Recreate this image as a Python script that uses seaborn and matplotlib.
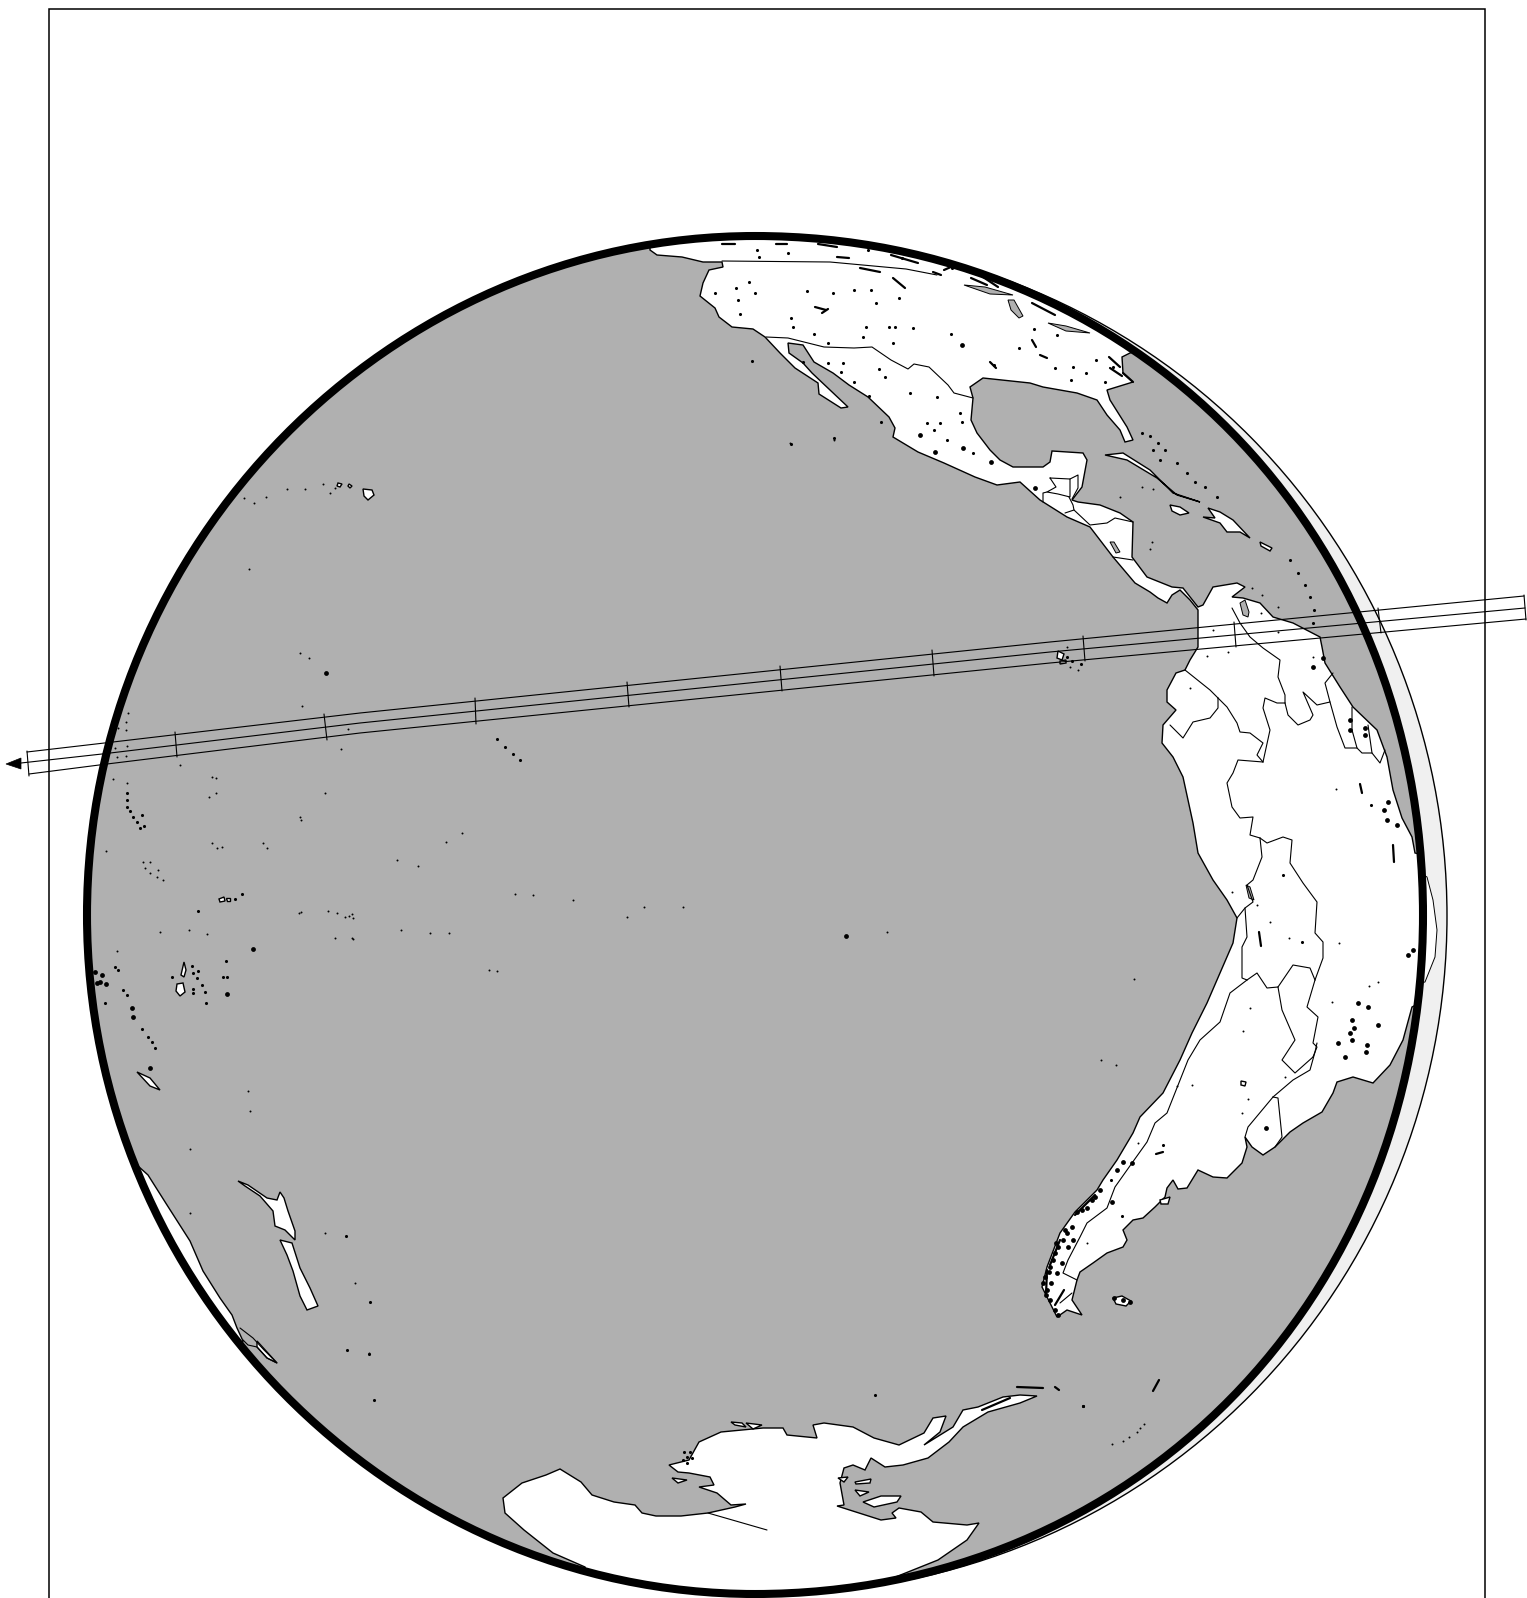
import pandas as pd
import matplotlib
matplotlib.use("Agg")
import matplotlib.pyplot as plt
from matplotlib.patches import Ellipse, PathPatch, Rectangle
from matplotlib.path import Path
import seaborn as sns

# Map outlines, in image pixels
americas = [(650,250),(657,255),(682,257),(703,262),(722,262),(723,267),(709,270),(703,283),(700,296),(715,308),(719,317),
    (732,327),(753,329),(765,337),(780,353),(795,368),(818,383),(819,394),(841,408),(848,407),(830,390),(812,373),(803,363),
    (789,353),(788,343),(803,345),(814,362),(833,373),(849,385),(868,397),(889,417),(895,428),(893,437),(918,452),(944,463),
    (975,477),(997,485),(1020,482),(1040,500),(1067,517),(1090,527),(1113,557),(1135,583),(1150,592),(1158,598),(1167,603),
    (1172,595),(1180,590),(1190,600),(1198,610),(1198,627),(1198,647),(1190,660),(1185,670),(1176,673),
    (1167,690),(1167,702),(1176,710),(1163,725),(1162,743),(1173,757),(1183,777),(1193,823),(1198,853),(1213,880),(1227,900),
    (1237,918),(1233,943),(1220,973),(1207,1003),(1192,1033),(1180,1060),(1163,1093),(1140,1117),(1133,1133),(1117,1160),
    (1103,1180),(1097,1190),(1075,1212),(1060,1233),(1047,1267),(1042,1287),(1057,1317),(1067,1310),(1082,1315),(1072,1300),
    (1077,1280),(1080,1272),(1093,1263),(1107,1253),(1123,1247),(1127,1240),(1123,1230),(1133,1220),(1143,1218),(1155,1207),
    (1165,1197),(1167,1188),(1173,1180),(1178,1189),(1187,1188),(1198,1170),(1213,1177),(1227,1178),(1242,1163),(1247,1147),
    (1245,1137),(1252,1147),(1263,1155),(1275,1147),(1290,1132),(1303,1123),(1322,1112),(1333,1093),(1337,1082),(1353,1077),
    (1373,1083),(1390,1065),(1403,1040),(1412,1007),(1445,990),(1445,860),(1415,853),(1412,837),(1402,818),(1393,790),
    (1387,757),(1377,730),(1353,707),(1340,687),(1325,663),(1322,647),(1320,637),(1293,623),(1273,617),(1260,603),(1243,598),
    (1232,597),(1245,587),(1237,583),(1213,587),(1203,605),(1198,607),(1183,588),(1172,587),(1147,577),(1132,557),(1133,522),
    (1120,513),(1100,505),(1078,502),(1072,500),(1082,487),(1087,460),(1083,453),(1052,451),(1050,462),(1043,467),(1013,467),
    (1000,460),(990,450),(977,433),(971,420),(973,398),(970,387),(983,378),(1030,383),(1043,387),(1077,393),(1097,400),(1107,415),
    (1120,430),(1125,442),(1133,440),(1127,427),(1110,400),(1107,390),(1133,382),(1123,373),(1122,357),(1130,353),(1180,340),
    (1100,200),(650,200)]
brazil_bump = [(1415,870),(1427,877),(1433,900),(1437,930),(1435,957),(1425,982),(1410,985)]
australia = [(138,1166),(148,1175),(167,1205),(190,1241),(203,1271),(220,1298),(232,1315),(237,1328),(243,1341),
    (230,1370),(100,1250),(110,1170)]
tasmania = [(257,1341),(277,1363),(267,1358),(257,1347)]
tasmania_shelf = [(240,1328),(253,1338),(264,1350),(277,1363),(267,1358),(257,1347),(248,1345),(243,1340)]
nz_north = [(238,1181),(248,1185),(267,1198),(277,1200),(280,1192),(284,1198),(288,1211),(295,1231),(295,1240),(285,1230),
    (275,1226),(273,1211),(260,1196),(245,1186)]
nz_south = [(280,1240),(292,1243),(300,1268),(310,1288),(318,1306),(307,1310),(300,1296),(293,1271),(287,1255)]
antarctica = [(505,1513),(503,1498),(522,1483),(546,1475),(560,1469),(581,1482),(592,1495),(614,1502),(635,1505),(642,1513),
    (656,1516),(681,1516),(708,1513),(735,1507),(746,1504),(731,1505),(717,1493),(699,1487),(714,1485),(710,1477),(689,1473),
    (678,1472),(669,1465),(689,1460),(699,1442),(721,1432),(763,1428),(783,1428),(787,1435),(817,1438),(813,1425),(824,1423),
    (853,1427),(874,1438),(899,1445),(924,1433),(933,1418),(946,1416),(940,1432),(924,1445),(953,1427),(963,1410),(978,1407),
    (1003,1397),(1020,1395),(1037,1396),(1020,1403),(988,1412),(963,1427),(949,1442),(928,1458),(903,1465),(885,1467),
    (871,1458),(865,1470),(853,1465),(844,1468),(840,1483),(844,1505),(837,1506),(881,1520),(896,1518),(892,1513),(899,1508),
    (921,1512),(933,1522),(967,1525),(979,1523),(967,1540),(938,1560),(888,1580),(880,1620),(600,1620),(585,1567),(553,1553),
    (524,1530)]
islands = [
    [(1105,455),(1123,453),(1150,470),(1173,493),(1200,502),(1177,495),(1157,478),(1127,460)],
    [(1170,505),(1180,507),(1189,513),(1180,515),(1172,511)],
    [(1208,508),(1220,512),(1233,520),(1250,538),(1240,532),(1227,532),(1220,523),(1203,517),(1215,518)],
    [(1260,542),(1272,548),(1270,551),(1261,546)],
    [(863,1502),(881,1496),(901,1496),(897,1502),(874,1507)],
    [(855,1482),(871,1479),(870,1483),(856,1484)],
    [(855,1490),(869,1492),(860,1496)],
    [(838,1478),(848,1477),(844,1482)],
    [(672,1478),(687,1480),(678,1483)],
    [(731,1422),(742,1423),(746,1427),(735,1425)],
    [(746,1423),(762,1425),(753,1429)],
    [(363,489),(372,490),(374,495),(368,500),(364,496)],
    [(338,483),(342,484),(340,487),(337,486)],
    [(349,484),(352,486),(350,488),(348,486)],
    [(137,1072),(150,1078),(160,1090),(150,1086)],
    [(177,984),(183,983),(185,992),(180,996),(176,991)],
    [(181,975),(184,962),(186,970),(184,977)],
    [(219,899),(224,897),(225,901),(220,902)],
    [(226,898),(230,898),(230,901),(227,901)],
    [(1241,1081),(1246,1082),(1245,1086),(1241,1085)],
    [(1160,1200),(1170,1197),(1168,1204),(1161,1204)],
    [(1113,1298),(1122,1296),(1131,1301),(1126,1306),(1116,1304)],
    [(1058,651),(1064,654),(1062,660),(1057,658)],
    [(1060,661),(1066,660),(1066,663),(1060,664)],
]
gray_lakes = [
    [(1008,300),(1014,300),(1023,316),(1019,318),(1011,310)],
    [(964,285),(985,287),(1013,295),(990,294)],
    [(1048,323),(1066,326),(1090,333),(1066,331)],
    [(1240,603),(1245,600),(1249,612),(1248,617),(1243,615)],
    [(1110,542),(1114,542),(1120,552),(1116,553)],
    [(1246,885),(1250,887),(1254,900),(1249,898)],
]

# Country borders
us_canada = [(722,261),(830,262),(906,269),(937,275)]
us_mexico = [(766,337),(788,338),(824,347),(854,348),(872,347),(891,360),(908,369),(914,364),(929,367),(948,385),(954,393),(973,398)]
guatemala = [(1050,478),(1070,479),(1070,497),(1058,494),(1047,492),(1056,487),(1050,478)]
belize = [(1070,479),(1078,475),(1078,488),(1072,499)]
honduras = [(1047,492),(1043,493),(1043,502)]
salvador = [(1069,497),(1073,505),(1074,510),(1065,513)]
nicaragua = [(1074,510),(1090,525),(1107,523),(1115,518),(1133,522)]
costa_rica = [(1113,557),(1133,560)]
col_ecu = [(1185,670),(1210,690),(1218,698)]
ecu_peru = [(1218,698),(1218,708),(1210,718),(1193,722),(1183,738),(1170,725)]
col_peru = [(1218,698),(1227,707),(1237,723),(1240,732),(1250,733),(1263,743),(1257,755),(1263,762)]
col_brazil = [(1263,762),(1270,730),(1263,708),(1265,698),(1277,703),(1285,703)]
col_ven = [(1232,608),(1240,623),(1250,637),(1263,648),(1280,660),(1278,677),(1285,695),(1285,703)]
ven_brazil = [(1285,703),(1288,715),(1298,725),(1310,720),(1313,715),(1303,692),(1317,705),(1330,702),(1325,683),(1333,673)]
guyana = [(1330,702),(1337,727),(1345,748),(1357,748)]
suriname = [(1352,707),(1352,730),(1357,748),(1362,753),(1372,753)]
guiana = [(1368,725),(1372,753),(1380,763),(1385,750)]
peru_brazil = [(1263,762),(1238,760),(1233,773),(1227,783),(1232,807),(1240,818),(1253,817),(1250,835),(1260,838)]
bol_brazil = [(1260,838),(1267,843),(1283,837),(1292,840),(1290,863),(1303,883),(1317,902),(1315,933),(1323,942),(1323,958),(1315,980)]
peru_bol = [(1260,838),(1262,857),(1253,880),(1247,885),(1253,902),(1245,908),(1237,918)]
chile_bol = [(1245,908),(1247,937),(1242,947),(1242,978),(1247,980)]
bol_arg = [(1247,980),(1257,973),(1267,988),(1278,987)]
bol_par = [(1278,987),(1293,965),(1310,968),(1315,980)]
par_arg = [(1278,987),(1282,1010),(1295,1040),(1282,1060),(1295,1073),(1313,1057)]
par_brazil = [(1315,980),(1307,1007),(1318,1017),(1313,1043),(1317,1047),(1313,1057)]
chile_arg = [(1247,980),(1230,993),(1220,1022),(1200,1040),(1188,1060),(1167,1113),(1155,1123),(1147,1142),(1132,1163),(1115,1187),
    (1107,1208),(1087,1223),(1080,1237),(1068,1260),(1063,1273),(1077,1280)]
fuego = [(1072,1293),(1060,1303)]
arg_uru = [(1273,1097),(1248,1127),(1245,1137)]
uru_brazil = [(1273,1097),(1278,1098),(1282,1137),(1275,1147)]
arg_brazil = [(1273,1097),(1293,1080),(1310,1070),(1315,1052),(1317,1043)]
ross_line = [(708,1513),(767,1530)]
borders = [us_canada, us_mexico, guatemala, belize, honduras, salvador, nicaragua, costa_rica, col_ecu, ecu_peru, col_peru,
    col_brazil, col_ven, ven_brazil, guyana, suriname, guiana, peru_brazil, bol_brazil, peru_bol, chile_bol, bol_arg, bol_par,
    par_arg, par_brazil, chile_arg, fuego, arg_uru, uru_brazil, arg_brazil, ross_line, tasmania_shelf]

# Lakes and small islands, by blob size
small_dots = [(128,713),(126,722),(118,728),(126,730),(115,748),(127,746),(117,757),(126,756),(302,706),(348,729),(341,749),
    (180,765),(212,777),(216,778),(216,793),(209,797),(325,793),(113,779),(127,783),(300,817),(301,820),(212,843),(217,848),
    (222,847),(263,843),(267,848),(106,851),(143,862),(150,862),(145,868),(150,873),(158,870),(157,877),(163,880),(299,913),
    (328,911),(337,913),(345,917),(349,916),(353,918),(335,938),(353,939),(160,932),(189,930),(207,934),(117,951),(300,653),
    (309,658),(397,860),(418,866),(446,842),(462,833),(515,894),(533,895),(573,900),(644,907),(683,907),(627,917),
    (401,930),(430,933),(449,933),(352,938),(352,914),(301,912),(887,932),(489,970),(497,971),(1134,979),(1101,1060),(1116,1065),
    (790,443),(834,440),(190,1149),(190,1213),(250,1111),(248,1091),(1228,652),(1207,656),(1213,630),(1190,688),(1261,613),
    (1278,632),(1313,657),(1336,789),(1232,892),(1257,905),(1270,922),(1289,938),(1339,943),(1332,1002),(1369,986),(1378,982),
    (1250,1008),(1243,1031),(1192,1085),(1177,1086),(1248,1099),(1242,1113),(1138,1143),(1285,1077),(1087,1243),
    (323,484),(305,489),(287,489),(266,497),(254,503),(244,498),(249,569),(335,488),(330,493),(1112,1444),(1123,1441),(1129,1437),
    (1137,1432),(1140,1428),(1144,1424),(1067,647),(1070,667),(1078,670),(1142,487),(1153,489),(1120,497),(1152,542),(1150,549),
    (1252,588),(1262,595),(1278,607),(355,1283),(369,1353),(325,1233),(1083,1406)]
medium_dots = [(127,793),(127,800),(127,807),(130,811),(133,817),(137,822),(140,828),(142,815),(144,826),(235,899),(242,894),
    (198,911),(115,967),(118,970),(226,961),(223,977),(227,977),(123,990),(127,995),(105,1003),(142,1029),(148,1037),(152,1042),
    (155,1048),(172,977),(192,966),(193,973),(198,971),(197,978),(202,985),(193,989),(193,993),(205,992),(206,1003),(497,739),
    (505,747),(513,754),(520,760),(346,1236),(370,1302),(347,1350),(369,1354),(374,1400),(875,1395),(1083,1406),(687,1457),
    (683,1460),(690,1452),(684,1452),(692,1458),(687,1463),(757,250),(759,257),(788,253),(868,250),(902,258),(952,268),
    (807,291),(791,318),(715,293),(749,282),(736,288),(738,300),(755,293),(740,314),(833,293),
    (854,290),(871,290),(899,298),(876,303),(866,327),(889,327),(895,327),(913,328),(793,327),(814,334),(828,343),(863,337),
    (893,343),(951,334),(994,365),(1019,348),(1057,335),(1034,329),(1055,368),(1073,367),(1086,373),(1096,360),
    (1113,367),(1071,380),(1105,382),(828,363),(843,363),(841,372),(854,382),(869,396),(879,369),(885,377),(910,393),(937,397),
    (960,413),(962,422),(927,423),(940,423),(934,430),(947,440),(973,453),(803,362),(752,361),(834,438),(791,444),(881,422),
    (1142,433),(1150,436),(1158,443),(1153,450),(1160,460),(1165,450),(1177,463),(1187,473),(1195,482),(1205,487),(1217,497),
    (1290,560),(1298,573),(1305,585),(1310,597),(1314,610),(1313,623),(1371,805),(1283,875),(1302,942),
    (1163,1145),(1122,1216),(1111,1180),(1067,657),(1072,661),(1081,664),(1083,1406)]
big_dots = [(326,673),(253,949),(95,972),(102,975),(97,983),(106,984),(100,982),(132,1008),(133,1017),(227,994),(150,1068),
    (846,936),(962,345),(920,435),(935,452),(963,448),(991,462),(1035,488),(1350,720),(1350,730),(1365,728),(1365,735),
    (1313,667),(1323,658),(1388,802),(1384,810),(1397,825),(1387,820),(1413,950),(1408,955),(1358,1003),(1368,1007),(1352,1020),
    (1354,1028),(1378,1025),(1350,1033),(1352,1040),(1338,1043),(1367,1045),(1366,1052),(1345,1057),(1266,1128),
    (1077,1212),(1087,1208),(1095,1197),(1100,1190),(1092,1200),(1082,1210),(1072,1227),(1067,1233),(1063,1240),(1058,1247),
    (1053,1260),(1050,1267),(1055,1253),(1065,1230),(1045,1277),(1047,1290),(1050,1300),(1055,1310),(1058,1315),(1043,1283),
    (1062,1263),(1057,1273),(1068,1247),(1073,1240),(1117,1170),(1123,1162),(1132,1163),(1112,1202),(1114,1298),(1123,1300),
    (1130,1302),(1049,1272),(1046,1295),(1051,1283),(1056,1243)]
dashes = [[(722,244),(735,244)],[(776,244),(787,244)],[(893,278),(905,288)],[(815,307),(826,310)],[(822,313),(828,309)],
    [(818,244),(837,247)],[(837,257),(849,258)],[(860,268),(880,272)],[(891,255),(918,263)],[(933,272),(941,275)],
    [(944,270),(960,263)],[(971,278),(987,285)],[(983,277),(998,287)],[(1032,303),(1055,315)],[(1109,357),(1120,367)],
    [(1123,373),(1133,382)],[(1110,368),(1122,376)],[(1032,340),(1036,347)],[(1040,355),(1047,358)],[(990,362),(996,368)],
    [(1360,784),(1362,793)],[(1393,845),(1394,862)],[(1259,932),(1261,946)],[(1156,1154),(1163,1152)],[(1153,1391),(1159,1380)],
    [(1017,1387),(1043,1388)],[(1055,1387),(1059,1390)],[(982,1410),(1010,1398)],[(1064,1290),(1055,1305)],
    [(1095,1195),(1075,1215)],[(1060,1240),(1050,1265)],[(1047,1270),(1046,1295)]]

# Ground track band across the disc
band_top = [(27,752),(113,742),(360,713),(1050,642),(1524,596)]
band_mid = [(21,763),(102,754),(360,723),(1050,652),(1525,608)]
band_bottom = [(29,774),(107,764),(360,733),(1050,663),(1526,619)]
band_ticks = [[(27,751),(29,776)],[(175,732),(177,757)],[(324,714),(327,740)],[(475,698),(476,724)],[(627,682),(629,707)],
    [(780,666),(782,691)],[(932,650),(934,676)],[(1083,636),(1085,661)],[(1234,622),(1236,647)],[(1378,608),(1381,633)],
    [(1524,595),(1526,620)]]
arrow_head = [(6,764),(21,758),(21,769)]

# Limb of the globe: anchors on the four extremes, right side a little fuller than an ellipse
limb_centre = (755, 915)
limb_a, limb_b = 668, 679
limb_k_right, limb_k_left = 0.566, 0.547

OCEAN = "#b0b0b0"
CRESCENT = "#f0f0f0"
EDGE = 1.0


def limb_path():
    cx, cy = limb_centre
    a, b = limb_a, limb_b
    kr, kl = limb_k_right, limb_k_left
    verts = [(cx + a, cy),
             (cx + a, cy + kr * b), (cx + kr * a, cy + b), (cx, cy + b),
             (cx - kl * a, cy + b), (cx - a, cy + kl * b), (cx - a, cy),
             (cx - a, cy - kl * b), (cx - kl * a, cy - b), (cx, cy - b),
             (cx + kr * a, cy - b), (cx + a, cy - kr * b), (cx + a, cy)]
    codes = [Path.MOVETO] + [Path.CURVE4] * 12
    return Path(verts, codes)


def lines_frame(groups):
    rows = []
    for i, pts in enumerate(groups):
        for order, (x, y) in enumerate(pts):
            rows.append({"id": i, "order": order, "x": x, "y": y})
    return pd.DataFrame(rows)


def draw_lines(ax, groups, lw, clip):
    before = len(ax.lines)
    sns.lineplot(data=lines_frame(groups), x="x", y="y", units="id", estimator=None, sort=False,
                 color="black", lw=lw, legend=False, ax=ax, zorder=4)
    for ln in ax.lines[before:]:
        ln.set_clip_path(clip)


def draw_dots(ax, pts, size, clip):
    df = pd.DataFrame(pts, columns=["x", "y"])
    sns.scatterplot(data=df, x="x", y="y", s=size, color="black", linewidth=0, legend=False, ax=ax, zorder=5)
    ax.collections[-1].set_clip_path(clip)


sns.set_theme(style="white")
fig = plt.figure(figsize=(15.27, 15.98), dpi=100)
ax = fig.add_axes([0, 0, 1, 1])

ax.add_patch(Rectangle((48.7, 9), 1485 - 48.7, 1700, fc="white", ec="black", lw=1.1, zorder=0))

# Offset disc behind the globe, shows as a crescent on the right
ax.add_patch(Ellipse((777, 916), 1340, 1354, fc=CRESCENT, ec="black", lw=1.0, zorder=1))
ax.fill(*zip(*brazil_bump), fc="white", ec="black", lw=0.7, zorder=1.5)

ocean = PathPatch(limb_path(), fc=OCEAN, ec="none", zorder=2)
ax.add_patch(ocean)

for shape in [americas, australia, tasmania, nz_north, nz_south, antarctica] + islands:
    for p in ax.fill(*zip(*shape), fc="white", ec="black", lw=EDGE, zorder=3):
        p.set_clip_path(ocean)
for shape in gray_lakes:
    for p in ax.fill(*zip(*shape), fc=OCEAN, ec="black", lw=0.7, zorder=3.5):
        p.set_clip_path(ocean)

draw_lines(ax, borders, 0.8, ocean)
draw_lines(ax, dashes, 1.6, ocean)
draw_dots(ax, small_dots, 2, ocean)
draw_dots(ax, medium_dots, 5, ocean)
draw_dots(ax, big_dots, 12, ocean)

ax.add_patch(PathPatch(limb_path(), fc="none", ec="black", lw=5.8, zorder=6))

band = [band_top, band_mid, band_bottom] + band_ticks
sns.lineplot(data=lines_frame(band), x="x", y="y", units="id", estimator=None, sort=False,
             color="black", lw=0.8, legend=False, ax=ax, zorder=7)
ax.fill(*zip(*arrow_head), fc="black", ec="black", lw=0.5, zorder=7)

ax.set_xlim(0, 1527)
ax.set_ylim(1598, 0)
ax.axis("off")
fig.savefig("out.png", dpi=100)
